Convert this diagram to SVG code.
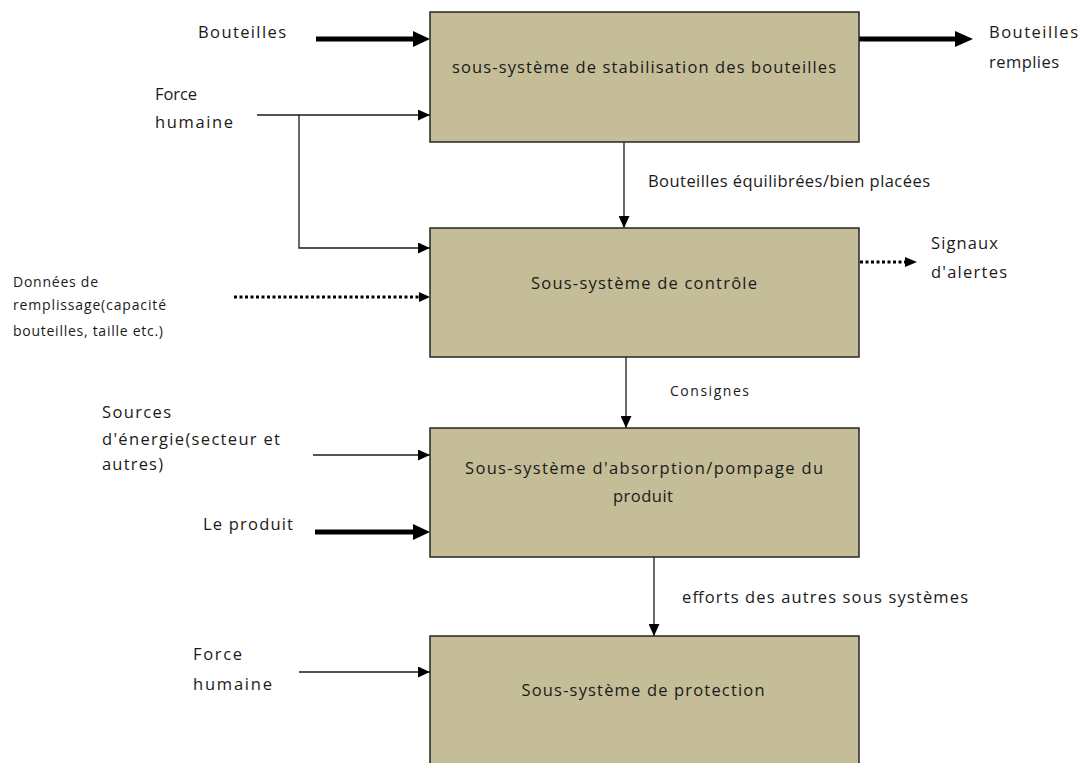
<svg xmlns="http://www.w3.org/2000/svg" width="1082" height="763" viewBox="0 0 1082 763">
<style>
.box{fill:#C4BD97;stroke:#262626;stroke-width:1.5}
text{font-family:"Open Sans","DejaVu Sans",sans-serif;fill:#1a1a1a}
.t15{font-size:16.5px}
.t12{font-size:14px}
.bt{font-size:16.5px;text-anchor:middle}
.thin{stroke:#1a1a1a;stroke-width:1.3;fill:none}
.thick{stroke:#000;stroke-width:5;fill:none}
.dot{stroke:#000;stroke-width:3;fill:none;stroke-dasharray:3 2.5}
.hd{fill:#000}
</style>
<defs>
<marker id="ah" markerUnits="userSpaceOnUse" markerWidth="13" markerHeight="11" refX="12" refY="5.5" orient="auto"><path d="M0,0 L12,5.5 L0,11 Z" fill="#000"/></marker>
</defs>
<g id="connectors">
<path class="thick" d="M316,39 H416"/>
<path class="hd" d="M413,31 L430,39 L413,47 Z"/>
<path class="thin" d="M257,115 H430" marker-end="url(#ah)"/>
<path class="thin" d="M299,115 V248 H430" marker-end="url(#ah)"/>
<path class="thick" d="M859,39 H958"/>
<path class="hd" d="M955,31 L973,39 L955,47 Z"/>
<path class="thin" d="M624,142 V228" marker-end="url(#ah)"/>
<path class="dot" d="M234,297 H420"/>
<path class="hd" d="M419,292 L430,297 L419,302 Z"/>
<path class="dot" d="M860,262 H906"/>
<path class="hd" d="M905,257 L917,262 L905,267 Z"/>
<path class="thin" d="M626,357 V428" marker-end="url(#ah)"/>
<path class="thin" d="M313,455 H430" marker-end="url(#ah)"/>
<path class="thick" d="M315,532 H416"/>
<path class="hd" d="M413,524 L430,532 L413,540 Z"/>
<path class="thin" d="M654,557 V636" marker-end="url(#ah)"/>
<path class="thin" d="M299,672 H430" marker-end="url(#ah)"/>
</g>
<g id="box1"><rect class="box" x="430" y="12" width="429" height="130"/><text class="bt" x="644" y="73" textLength="384">sous-système de stabilisation des bouteilles</text></g>
<g id="box2"><rect class="box" x="430" y="228" width="429" height="129"/><text class="bt" x="644" y="289" textLength="226">Sous-système de contrôle</text></g>
<g id="box3"><rect class="box" x="430" y="428" width="429" height="129"/><text class="bt" x="644" y="474" textLength="358">Sous-système d'absorption/pompage du</text><text class="bt" x="643" y="502" textLength="60">produit</text></g>
<g id="box4"><rect class="box" x="430" y="636" width="429" height="140"/><text class="bt" x="643" y="696" textLength="243">Sous-système de protection</text></g>
<g id="labels">
<text class="t15" x="198" y="38" textLength="88">Bouteilles</text>
<text class="t15" x="155" y="100" textLength="42">Force</text>
<text class="t15" x="155" y="128" textLength="78">humaine</text>
<text class="t15" x="989" y="38" textLength="89">Bouteilles</text>
<text class="t15" x="989" y="68" textLength="70">remplies</text>
<text class="t15" x="648" y="187" textLength="282">Bouteilles équilibrées/bien placées</text>
<text class="t15" x="931" y="249" textLength="67">Signaux</text>
<text class="t15" x="931" y="278" textLength="76">d'alertes</text>
<text class="t12" x="13" y="287" textLength="85">Données de</text>
<text class="t12" x="13" y="310" textLength="153">remplissage(capacité</text>
<text class="t12" x="13" y="336" textLength="150">bouteilles, taille etc.)</text>
<text class="t12" x="670" y="396" textLength="79">Consignes</text>
<text class="t15" x="102" y="418" textLength="69">Sources</text>
<text class="t15" x="102" y="445" textLength="178">d'énergie(secteur et</text>
<text class="t15" x="102" y="470" textLength="61">autres)</text>
<text class="t15" x="203" y="530" textLength="90">Le produit</text>
<text class="t15" x="682" y="603" textLength="286">efforts des autres sous systèmes</text>
<text class="t15" x="193" y="660" textLength="49">Force</text>
<text class="t15" x="193" y="690" textLength="79">humaine</text>
</g>
</svg>
